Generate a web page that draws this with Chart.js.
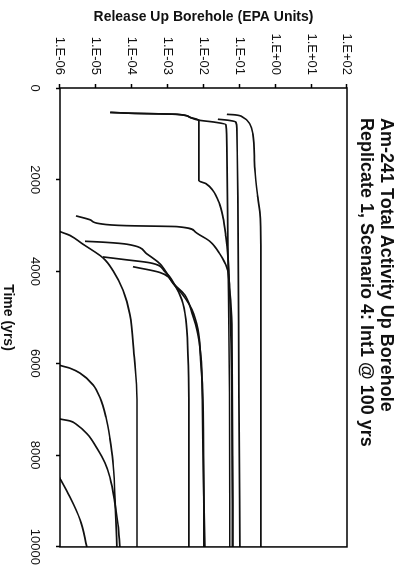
<!DOCTYPE html>
<html>
<head>
<meta charset="utf-8">
<script src="https://cdn.jsdelivr.net/npm/chart.js@4"></script>
<style>
  html, body { margin: 0; padding: 0; background: #fff; overflow: hidden; }
  #wrap {
    position: absolute; left: 404px; top: 0;
    width: 579px; height: 404px;
    transform-origin: 0 0; transform: rotate(90deg);
  }
</style>
</head>
<body>
<div id="wrap"><canvas id="chart" width="579" height="404"></canvas></div>
<script>
// chart is drawn landscape, then the whole canvas is turned 90deg clockwise
const titleLines = ['Am-241 Total Activity Up Borehole', 'Replicate 1, Scenario 4: Int1 @ 100 yrs'];
const timeTicks = [0, 2000, 4000, 6000, 8000, 10000];
const timeLabels = ['0', '2000', '4000', '6000', '8000', '10000'];
const releaseTicks = [1e-6, 1e-5, 1e-4, 1e-3, 1e-2, 1e-1, 1e0, 1e1, 1e2];
const releaseLabels = ['1.E-06', '1.E-05', '1.E-04', '1.E-03', '1.E-02', '1.E-01', '1.E+00', '1.E+01', '1.E+02'];

// one pair of arrays per realization (time in yrs, release in EPA units)
const timeA = [532, 553, 564, 574, 638, 702, 745, 798, 1320, 3450, 6640, 10000];
const relA  = [2.5e-5, 1.23e-4, 6.1e-4, 1.82e-3, 4.18e-3, 7.44e-3, 2.08e-2, 4.2e-2, 4.5e-2, 4.8e-2, 5.3e-2, 5.4e-2];

const timeB = [532, 553, 564, 574, 638, 702, 2020, 2085, 2234, 2489, 2809, 3234, 3660, 4511, 6640, 10000];
const relB  = [2.5e-5, 1.23e-4, 6.1e-4, 1.82e-3, 4.18e-3, 7.44e-3, 7.44e-3, 1.17e-2, 1.83e-2, 2.69e-2, 3.47e-2, 4.2e-2, 4.8e-2, 5.4e-2, 6.2e-2, 6.4e-2];

const timeC = [574, 585, 638, 787, 1000, 1766, 2383, 2702, 3447, 10000];
const relC  = [4.49e-2, 7.5e-2, 0.125, 0.196, 0.238, 0.27, 0.327, 0.372, 0.397, 0.397];

const timeD = [681, 702, 745, 894, 2383, 6638, 10000];
const relD  = [2.52e-2, 4.8e-2, 8.0e-2, 8.5e-2, 9.1e-2, 9.7e-2, 0.103];

const timeE = [2787, 2872, 2957, 3000, 3021, 3128, 3340, 3617, 3915, 4404, 5149, 10000];
const relE  = [2.79e-6, 6.9e-6, 1.3e-5, 7.3e-5, 1.82e-3, 5.75e-3, 1.5e-2, 2.86e-2, 4.49e-2, 5.4e-2, 6.2e-2, 6.6e-2];

const timeF = [2979, 3128, 3213, 3404, 3702, 3979, 4404, 4936, 5787, 6787, 10000];
const relF  = [4.6e-7, 1e-6, 1.9e-6, 4.37e-6, 1.58e-5, 2.99e-5, 5.7e-5, 8.9e-5, 1.15e-4, 1.4e-4, 1.4e-4];

const timeG = [3340, 3362, 3404, 3617, 3830, 4255, 4511, 4830, 5255, 6000, 6787, 10000];
const relG  = [4.97e-6, 1.79e-5, 7.34e-5, 2.65e-4, 6.1e-4, 1.41e-3, 2.67e-3, 4.75e-3, 6.98e-3, 8.5e-3, 9.6e-3, 1.03e-2];

const timeH = [3681, 3745, 3809, 4000, 4298, 4617, 5043, 5787, 6787, 10000];
const relH  = [1.58e-5, 7.34e-5, 3.21e-4, 8.4e-4, 1.6e-3, 2.5e-3, 3.24e-3, 3.68e-3, 3.92e-3, 3.92e-3];

const timeI = [3894, 4021, 4298, 4511, 4894, 5362, 6213, 7702, 10000];
const relI  = [1.08e-4, 6.1e-4, 1.6e-3, 3.03e-3, 4.75e-3, 6.98e-3, 9.0e-3, 9.6e-3, 1.09e-2];

const timeJ = [5894, 6043, 6106, 6213, 6468, 6745, 7170, 7638, 8128, 8915, 9404, 10000];
const relJ  = [5.3e-7, 1e-6, 1.9e-6, 3.6e-6, 8.3e-6, 1.3e-5, 1.91e-5, 2.47e-5, 2.99e-5, 3.4e-5, 3.63e-5, 3.87e-5];

const timeK = [7149, 7213, 7255, 7340, 7532, 7851, 8170, 8489, 9043, 9511, 10000];
const relK  = [5.3e-7, 1e-6, 1.9e-6, 2.98e-6, 5.65e-6, 1.07e-5, 1.79e-5, 2.47e-5, 3.4e-5, 4.13e-5, 4.69e-5];

const timeL = [8213, 8511, 8915, 9404, 10000];
const relL  = [6e-7, 1e-6, 1.9e-6, 3.6e-6, 5.65e-6];

const curves = [
    [timeA, relA], [timeB, relB], [timeC, relC], [timeD, relD],
    [timeE, relE], [timeF, relF], [timeG, relG], [timeH, relH],
    [timeI, relI], [timeJ, relJ], [timeK, relK], [timeL, relL]
];

const font = '"Liberation Sans", Arial, sans-serif';

// plot box + left aligned two line title
const framePlugin = {
    id: 'frame',
    afterDraw(chart) {
        const { ctx, chartArea: a } = chart;
        ctx.save();
        ctx.strokeStyle = '#000';
        ctx.lineWidth = 1.5;
        ctx.strokeRect(a.left, a.top, a.right - a.left, a.bottom - a.top);
        ctx.fillStyle = '#111';
        ctx.font = 'bold 18px ' + font;
        ctx.textBaseline = 'middle';
        ctx.textAlign = 'left';
        titleLines.forEach((line, i) => ctx.fillText(line, a.left + 30, 18 + i * 20));
        ctx.restore();
    }
};

new Chart(document.getElementById('chart'), {
    type: 'line',
    data: {
        datasets: curves.map(([t, r]) => ({
            data: t.map((x, i) => ({ x: x, y: r[i] })),
            borderColor: '#111',
            borderWidth: 1.7,
            pointRadius: 0,
            fill: false,
            cubicInterpolationMode: 'monotone'
        }))
    },
    options: {
        responsive: false,
        animation: false,
        devicePixelRatio: 1,
        layout: { padding: { left: 0, right: 21, top: 57, bottom: 0 } },
        plugins: { legend: { display: false }, tooltip: { enabled: false }, title: { display: false } },
        scales: {
            x: {
                type: 'linear', min: 0, max: 10000,
                afterBuildTicks: s => { s.ticks = timeTicks.map(v => ({ value: v })); },
                afterFit: s => { s.height = 60; },
                grid: { drawOnChartArea: false, tickLength: 4, tickColor: '#000', tickWidth: 1.5 },
                border: { display: false },
                ticks: { padding: 14, maxRotation: 0, color: '#111', font: { family: font, size: 13 },
                         callback: (v, i) => timeLabels[i] },
                title: { display: true, text: 'Time (yrs)', color: '#111',
                         font: { family: font, size: 14, weight: 'bold', lineHeight: 1 }, padding: { top: 0, bottom: 1 } }
            },
            y: {
                type: 'logarithmic', min: 1e-6, max: 1e2,
                afterBuildTicks: s => { s.ticks = releaseTicks.map(v => ({ value: v })); },
                afterFit: s => { s.width = 88; },
                grid: { drawOnChartArea: false, tickLength: 4, tickColor: '#000', tickWidth: 1.5 },
                border: { display: false },
                ticks: { padding: 9, color: '#111', font: { family: font, size: 13 },
                         callback: (v, i) => releaseLabels[i] },
                title: { display: true, text: 'Release Up Borehole (EPA Units)', color: '#111',
                         font: { family: font, size: 14, weight: 'bold', lineHeight: 1 }, padding: { top: 10, bottom: 0 } }
            }
        }
    },
    plugins: [framePlugin]
});
</script>
</body>
</html>
